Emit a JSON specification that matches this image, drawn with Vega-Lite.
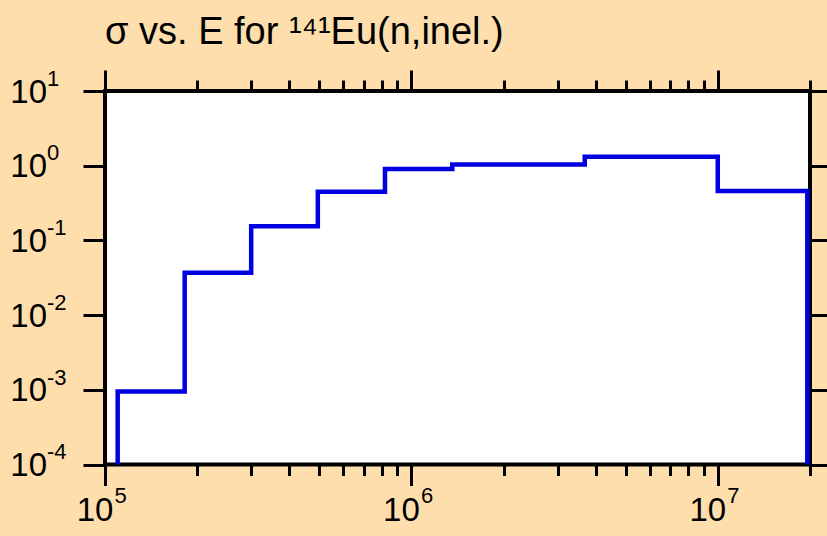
{
  "$schema": "https://vega.github.io/schema/vega-lite/v6.json",
  "width": 705,
  "height": 373.5,
  "autosize": {"type": "none"},
  "padding": {"left": 105, "top": 91, "right": 17, "bottom": 71.5},
  "background": "#FFDEAD",
  "config": {
    "view": {"fill": "white", "stroke": "black", "strokeWidth": 4},
    "font": "Liberation Sans",
    "axis": {"domain": false, "grid": false, "tickColor": "black", "tickWidth": 3, "title": null, "labelColor": "black", "labelFont": "Liberation Sans", "labelFontSize": 33, "labelFlush": false, "labelOverlap": false, "labelBound": false}
  },
  "title": {
    "text": "σ vs. E for ¹⁴¹Eu(n,inel.)",
    "anchor": "start",
    "frame": "group",
    "fontSize": 38,
    "fontWeight": "normal",
    "font": "Liberation Sans",
    "color": "black",
    "baseline": "alphabetic",
    "offset": -14
  },
  "datasets": {
    "xs": [
      {"i": 0, "E": 110000, "s": 0.0001},
      {"i": 1, "E": 110000, "s": 0.00095},
      {"i": 2, "E": 182000, "s": 0.037},
      {"i": 3, "E": 300000, "s": 0.155},
      {"i": 4, "E": 495000, "s": 0.447},
      {"i": 5, "E": 820000, "s": 0.9},
      {"i": 6, "E": 1360000, "s": 1.04},
      {"i": 7, "E": 3680000, "s": 1.32},
      {"i": 8, "E": 10000000, "s": 0.457},
      {"i": 9, "E": 19600000, "s": 0.457},
      {"i": 10, "E": 19600000, "s": 0.0001}
    ],
    "xexp": [
      {"v": 100000, "e": "5"},
      {"v": 1000000, "e": "6"},
      {"v": 10000000, "e": "7"}
    ],
    "yexp": [
      {"v": 10, "e": "1"},
      {"v": 1, "e": "0"},
      {"v": 0.1, "e": "-1"},
      {"v": 0.01, "e": "-2"},
      {"v": 0.001, "e": "-3"},
      {"v": 0.0001, "e": "-4"}
    ]
  },
  "resolve": {"axis": {"x": "independent", "y": "independent"}},
  "layer": [
    {
      "data": {"name": "xs"},
      "mark": {"type": "line", "opacity": 0},
      "encoding": {
        "x": {"field": "E", "type": "quantitative", "scale": {"type": "log", "domain": [100000, 20000000], "nice": false},
          "axis": {"orient": "bottom", "values": [200000, 300000, 400000, 500000, 600000, 700000, 800000, 900000, 2000000, 3000000, 4000000, 5000000, 6000000, 7000000, 8000000, 9000000, 20000000], "tickSize": 11, "labels": false}},
        "y": {"field": "s", "type": "quantitative", "scale": {"type": "log", "domain": [0.0001, 10], "nice": false},
          "axis": {"orient": "right", "values": [0.0001, 0.001, 0.01, 0.1, 1, 10], "tickSize": 22, "labels": false}}
      }
    },
    {
      "data": {"name": "xs"},
      "mark": {"type": "line", "opacity": 0},
      "encoding": {
        "x": {"field": "E", "type": "quantitative", "scale": {"type": "log", "domain": [100000, 20000000], "nice": false},
          "axis": {"orient": "top", "values": [200000, 300000, 400000, 500000, 600000, 700000, 800000, 900000, 2000000, 3000000, 4000000, 5000000, 6000000, 7000000, 8000000, 9000000, 20000000], "tickSize": 11, "labels": false}},
        "y": {"field": "s", "type": "quantitative", "scale": {"type": "log", "domain": [0.0001, 10], "nice": false}, "axis": null}
      }
    },
    {
      "data": {"name": "xs"},
      "mark": {"type": "line", "opacity": 0},
      "encoding": {
        "x": {"field": "E", "type": "quantitative", "scale": {"type": "log", "domain": [100000, 20000000], "nice": false},
          "axis": {"orient": "top", "values": [100000, 1000000, 10000000], "tickSize": 21, "labels": false}},
        "y": {"field": "s", "type": "quantitative", "scale": {"type": "log", "domain": [0.0001, 10], "nice": false}, "axis": null}
      }
    },
    {
      "data": {"name": "xexp"},
      "mark": {"type": "text", "align": "left", "baseline": "alphabetic", "fontSize": 22, "font": "Liberation Sans", "color": "black", "dx": 9.5, "dy": 38.5},
      "encoding": {
        "x": {"field": "v", "type": "quantitative", "scale": {"type": "log", "domain": [100000, 20000000], "nice": false}, "axis": null},
        "y": {"datum": 0.0001, "type": "quantitative", "scale": {"type": "log", "domain": [0.0001, 10], "nice": false}, "axis": null},
        "text": {"field": "e"}
      }
    },
    {
      "data": {"name": "yexp"},
      "mark": {"type": "text", "align": "left", "baseline": "alphabetic", "fontSize": 22, "font": "Liberation Sans", "color": "black", "dx": -58, "dy": -5.3},
      "encoding": {
        "x": {"datum": 100000, "type": "quantitative", "scale": {"type": "log", "domain": [100000, 20000000], "nice": false}, "axis": null},
        "y": {"field": "v", "type": "quantitative", "scale": {"type": "log", "domain": [0.0001, 10], "nice": false}, "axis": null},
        "text": {"field": "e"}
      }
    },
    {
      "data": {"name": "xs"},
      "mark": {"type": "line", "interpolate": "step-after", "color": "#0000e0", "strokeWidth": 4.5, "clip": false},
      "encoding": {
        "x": {"field": "E", "type": "quantitative", "scale": {"type": "log", "domain": [100000, 20000000], "nice": false},
          "axis": {"orient": "bottom", "values": [100000, 1000000, 10000000], "tickSize": 21, "labelPadding": 35, "labelBaseline": "alphabetic", "labelOffset": -10.5, "labelFlush": false,
            "labelExpr": "'10'"}},
        "y": {"field": "s", "type": "quantitative", "scale": {"type": "log", "domain": [0.0001, 10], "nice": false},
          "axis": {"orient": "left", "values": [0.0001, 0.001, 0.01, 0.1, 1, 10], "tickSize": 22, "labelPadding": 36.5, "labelBaseline": "alphabetic", "labelOffset": 11, "labelFlush": false,
            "labelExpr": "'10'"}},
        "order": {"field": "i", "type": "quantitative"}
      }
    }
  ]
}
